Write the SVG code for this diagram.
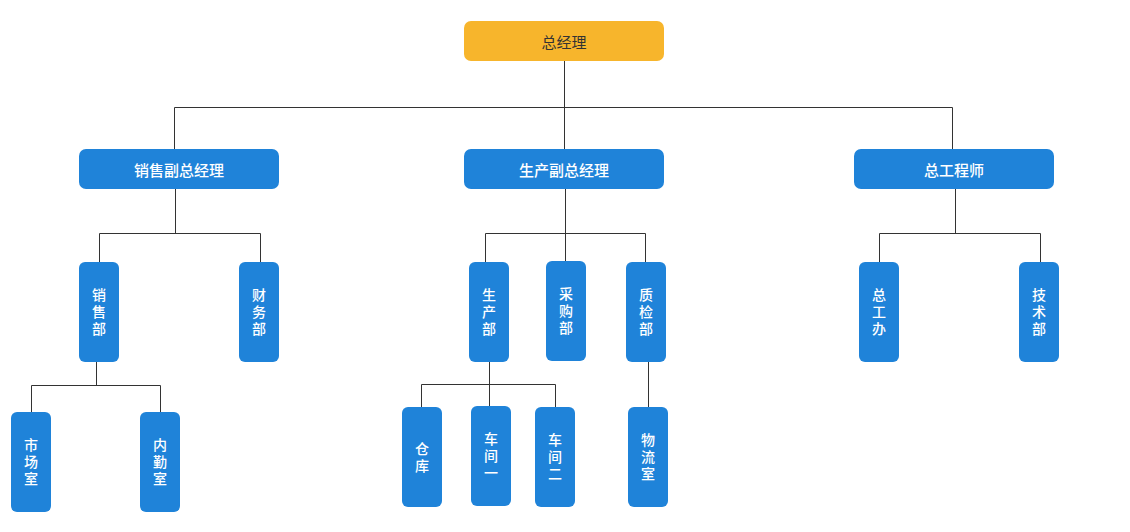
<svg xmlns="http://www.w3.org/2000/svg" width="1130" height="532" viewBox="0 0 1130 532">
<style>
.n{fill:#1f83d9}
.top{fill:#f7b52c}
.t{font-family:"Noto Sans CJK SC","Noto Sans",sans-serif;font-size:15px;font-weight:500;fill:#fff;text-anchor:middle;dominant-baseline:central}
.dark{fill:#333;font-weight:400}
.v{font-family:"Liberation Sans","Noto Sans CJK SC",sans-serif;font-size:14px;font-weight:500;fill:#fff;text-anchor:middle;dominant-baseline:central}
.c{stroke:#333;stroke-width:1;fill:none}
</style>
<rect width="1130" height="532" fill="#fff"/>
<g id="connectors">
<path class="c" d="M564.5 61V107.5M174.5 107.5H952.5M174.5 107.5V149M564.5 107.5V149M952.5 107.5V149"/>
<path class="c" d="M175.5 189V233.5M99.5 233.5H260.5M99.5 233.5V262M260.5 233.5V262"/>
<path class="c" d="M565.5 189V233.5M485.5 233.5H645.5M485.5 233.5V262M565.5 233.5V261M645.5 233.5V262"/>
<path class="c" d="M955.5 189V233.5M879.5 233.5H1040.5M879.5 233.5V262M1040.5 233.5V262"/>
<path class="c" d="M96.5 362V385.5M31.5 385.5H160.5M31.5 385.5V412M160.5 385.5V412"/>
<path class="c" d="M489.5 362V384.5M421.5 384.5H555.5M421.5 384.5V407M489.5 384.5V406M555.5 384.5V407"/>
<path class="c" d="M648.5 362V407"/>
</g>
<g id="n-zjl"><rect class="top" x="464" y="21" width="200" height="40" rx="7"/><text class="t dark" x="564" y="41">总经理</text></g>
<g id="n-xsfz"><rect class="n" x="79" y="149" width="200" height="40" rx="7"/><text class="t" x="179" y="169">销售副总经理</text></g>
<g id="n-scfz"><rect class="n" x="464" y="149" width="200" height="40" rx="7"/><text class="t" x="564" y="169">生产副总经理</text></g>
<g id="n-zgcs"><rect class="n" x="854" y="149" width="200" height="40" rx="7"/><text class="t" x="954" y="169">总工程师</text></g>
<g id="n-xsb"><rect class="n" x="79" y="262" width="40" height="100" rx="6"/><text class="v" x="99" y="295">销</text><text class="v" x="99" y="312">售</text><text class="v" x="99" y="329">部</text></g>
<g id="n-cwb"><rect class="n" x="239" y="262" width="40" height="100" rx="6"/><text class="v" x="259" y="295">财</text><text class="v" x="259" y="312">务</text><text class="v" x="259" y="329">部</text></g>
<g id="n-scb"><rect class="n" x="469" y="262" width="40" height="100" rx="6"/><text class="v" x="489" y="295">生</text><text class="v" x="489" y="312">产</text><text class="v" x="489" y="329">部</text></g>
<g id="n-cgb"><rect class="n" x="546" y="261" width="40" height="100" rx="6"/><text class="v" x="566" y="294">采</text><text class="v" x="566" y="311">购</text><text class="v" x="566" y="328">部</text></g>
<g id="n-zjb"><rect class="n" x="626" y="262" width="40" height="100" rx="6"/><text class="v" x="646" y="295">质</text><text class="v" x="646" y="312">检</text><text class="v" x="646" y="329">部</text></g>
<g id="n-zgb"><rect class="n" x="859" y="262" width="40" height="100" rx="6"/><text class="v" x="879" y="295">总</text><text class="v" x="879" y="312">工</text><text class="v" x="879" y="329">办</text></g>
<g id="n-jsb"><rect class="n" x="1019" y="262" width="40" height="100" rx="6"/><text class="v" x="1039" y="295">技</text><text class="v" x="1039" y="312">术</text><text class="v" x="1039" y="329">部</text></g>
<g id="n-scs"><rect class="n" x="11" y="412" width="40" height="100" rx="6"/><text class="v" x="31" y="445">市</text><text class="v" x="31" y="462">场</text><text class="v" x="31" y="479">室</text></g>
<g id="n-nqs"><rect class="n" x="140" y="412" width="40" height="100" rx="6"/><text class="v" x="160" y="445">内</text><text class="v" x="160" y="462">勤</text><text class="v" x="160" y="479">室</text></g>
<g id="n-ck"><rect class="n" x="402" y="407" width="40" height="100" rx="6"/><text class="v" x="422" y="448.5">仓</text><text class="v" x="422" y="465.5">库</text></g>
<g id="n-cj1"><rect class="n" x="471" y="406" width="40" height="100" rx="6"/><text class="v" x="491" y="439">车</text><text class="v" x="491" y="456">间</text><text class="v" x="491" y="473">一</text></g>
<g id="n-cj2"><rect class="n" x="535" y="407" width="40" height="100" rx="6"/><text class="v" x="555" y="440">车</text><text class="v" x="555" y="457">间</text><text class="v" x="555" y="474">二</text></g>
<g id="n-wls"><rect class="n" x="628" y="407" width="40" height="100" rx="6"/><text class="v" x="648" y="440">物</text><text class="v" x="648" y="457">流</text><text class="v" x="648" y="474">室</text></g>
</svg>
